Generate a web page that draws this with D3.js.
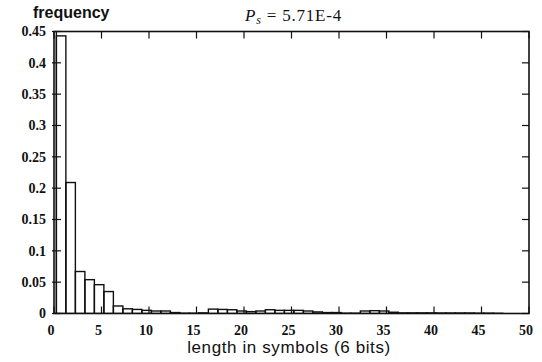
<!DOCTYPE html>
<html>
<head>
<meta charset="utf-8">
<script src="https://cdn.jsdelivr.net/npm/d3@7"></script>
<style>
  body { margin: 0; background: #fff; }
  svg { display: block; }
</style>
</head>
<body>
<div id="chart"></div>
<script>
// Run length histogram (bars drawn as outlined rectangles)
var lengths = d3.range(0, 51);
var frequencies = [
  0.5, 0.443, 0.209, 0.067, 0.054, 0.046, 0.035, 0.012, 0.0075, 0.0065,
  0.005, 0.004, 0.004, 0.0015, 0.0005, 0.0005, 0.001, 0.007, 0.0065, 0.006,
  0.004, 0.003, 0.004, 0.006, 0.005, 0.005, 0.005, 0.004, 0.0025, 0.0015,
  0.0015, 0.0005, 0.0005, 0.004, 0.0045, 0.004, 0.002, 0.001, 0.001, 0.001,
  0.001, 0.0008, 0.0008, 0.0008, 0.0008, 0.0005, 0.0005, 0.0003, 0, 0, 0
];
var xTicks = d3.range(0, 51, 5);
var yTicks = [0, 0.05, 0.1, 0.15, 0.2, 0.25, 0.3, 0.35, 0.4, 0.45];
var yTickLabels = ["0", "0.05", "0.1", "0.15", "0.2", "0.25", "0.3", "0.35", "0.4", "0.45"];
var title = "5.71E-4";

const width = 542, height = 362;
const margin = { left: 54, right: 13, top: 31.5, bottom: 48.5 };

const svg = d3.select("#chart").append("svg")
  .attr("width", width)
  .attr("height", height);

const x = d3.scaleLinear().domain([0, 50]).range([margin.left, width - margin.right]);
const y = d3.scaleLinear().domain([0, 0.45]).range([height - margin.bottom, margin.top]);

// clip bars to the frame
svg.append("clipPath").attr("id", "plot-clip")
  .append("rect")
  .attr("x", x(0)).attr("y", y(0.45))
  .attr("width", x(50) - x(0)).attr("height", y(0) - y(0.45));

const bars = svg.append("g").attr("clip-path", "url(#plot-clip)");
bars.selectAll("rect")
  .data(lengths.filter(d => frequencies[d] > 0))
  .enter().append("rect")
  .attr("x", d => x(d - 0.75))
  .attr("width", d => x(d + 0.25) - x(d - 0.75))
  .attr("y", d => y(frequencies[d]))
  .attr("height", d => y(0) - y(frequencies[d]))
  .attr("fill", "none")
  .attr("stroke", "#111")
  .attr("stroke-width", 1.4);

// tick marks on all four sides, pointing inward
const tickLen = 7;
const ticks = svg.append("g").attr("stroke", "#111").attr("stroke-width", 1.2);
yTicks.forEach(t => {
  ticks.append("line").attr("x1", x(0) - 2).attr("x2", x(0) + tickLen).attr("y1", y(t)).attr("y2", y(t));
  ticks.append("line").attr("x1", x(50) - tickLen).attr("x2", x(50)).attr("y1", y(t)).attr("y2", y(t));
});
xTicks.forEach(t => {
  ticks.append("line").attr("x1", x(t)).attr("x2", x(t)).attr("y1", y(0)).attr("y2", y(0) - tickLen);
  ticks.append("line").attr("x1", x(t)).attr("x2", x(t)).attr("y1", y(0.45)).attr("y2", y(0.45) + tickLen);
});

// frame
svg.append("rect")
  .attr("x", x(0)).attr("y", y(0.45))
  .attr("width", x(50) - x(0)).attr("height", y(0) - y(0.45))
  .attr("fill", "none")
  .attr("stroke", "#111")
  .attr("stroke-width", 1.6);

// tick labels
const numFont = "'Liberation Serif', 'DejaVu Serif', serif";
svg.append("g").selectAll("text")
  .data(yTicks)
  .enter().append("text")
  .attr("x", x(0) - 8)
  .attr("y", d => y(d))
  .attr("dy", "0.35em")
  .attr("text-anchor", "end")
  .attr("font-family", numFont)
  .attr("font-size", 14)
  .attr("font-weight", "bold")
  .attr("fill", "#111")
  .text((d, i) => yTickLabels[i]);

svg.append("g").selectAll("text")
  .data(xTicks)
  .enter().append("text")
  .attr("x", d => x(d) - 3)
  .attr("y", y(0) + 21)
  .attr("text-anchor", "middle")
  .attr("font-family", numFont)
  .attr("font-size", 14)
  .attr("font-weight", "bold")
  .attr("fill", "#111")
  .text(d => d);

// axis titles
svg.append("text")
  .attr("x", 33).attr("y", 18)
  .attr("font-family", "'Liberation Sans', Arial, sans-serif")
  .attr("font-size", 16)
  .attr("font-weight", "bold")
  .attr("fill", "#111")
  .text("frequency");

svg.append("text")
  .attr("x", 289).attr("y", 353)
  .attr("text-anchor", "middle")
  .attr("font-family", "'Liberation Sans', Arial, sans-serif")
  .attr("font-size", 17)
  .attr("letter-spacing", 0.6)
  .attr("fill", "#111")
  .text("length in symbols (6 bits)");

const t = svg.append("text")
  .attr("x", 245).attr("y", 21)
  .attr("font-family", numFont)
  .attr("font-size", 17)
  .attr("letter-spacing", 0.8)
  .attr("fill", "#111");
t.append("tspan").attr("font-style", "italic").text("P");
t.append("tspan").attr("font-style", "italic").attr("font-size", 12).attr("dy", 3).text("s");
t.append("tspan").attr("dy", -3).text(" = " + title);
</script>
</body>
</html>
